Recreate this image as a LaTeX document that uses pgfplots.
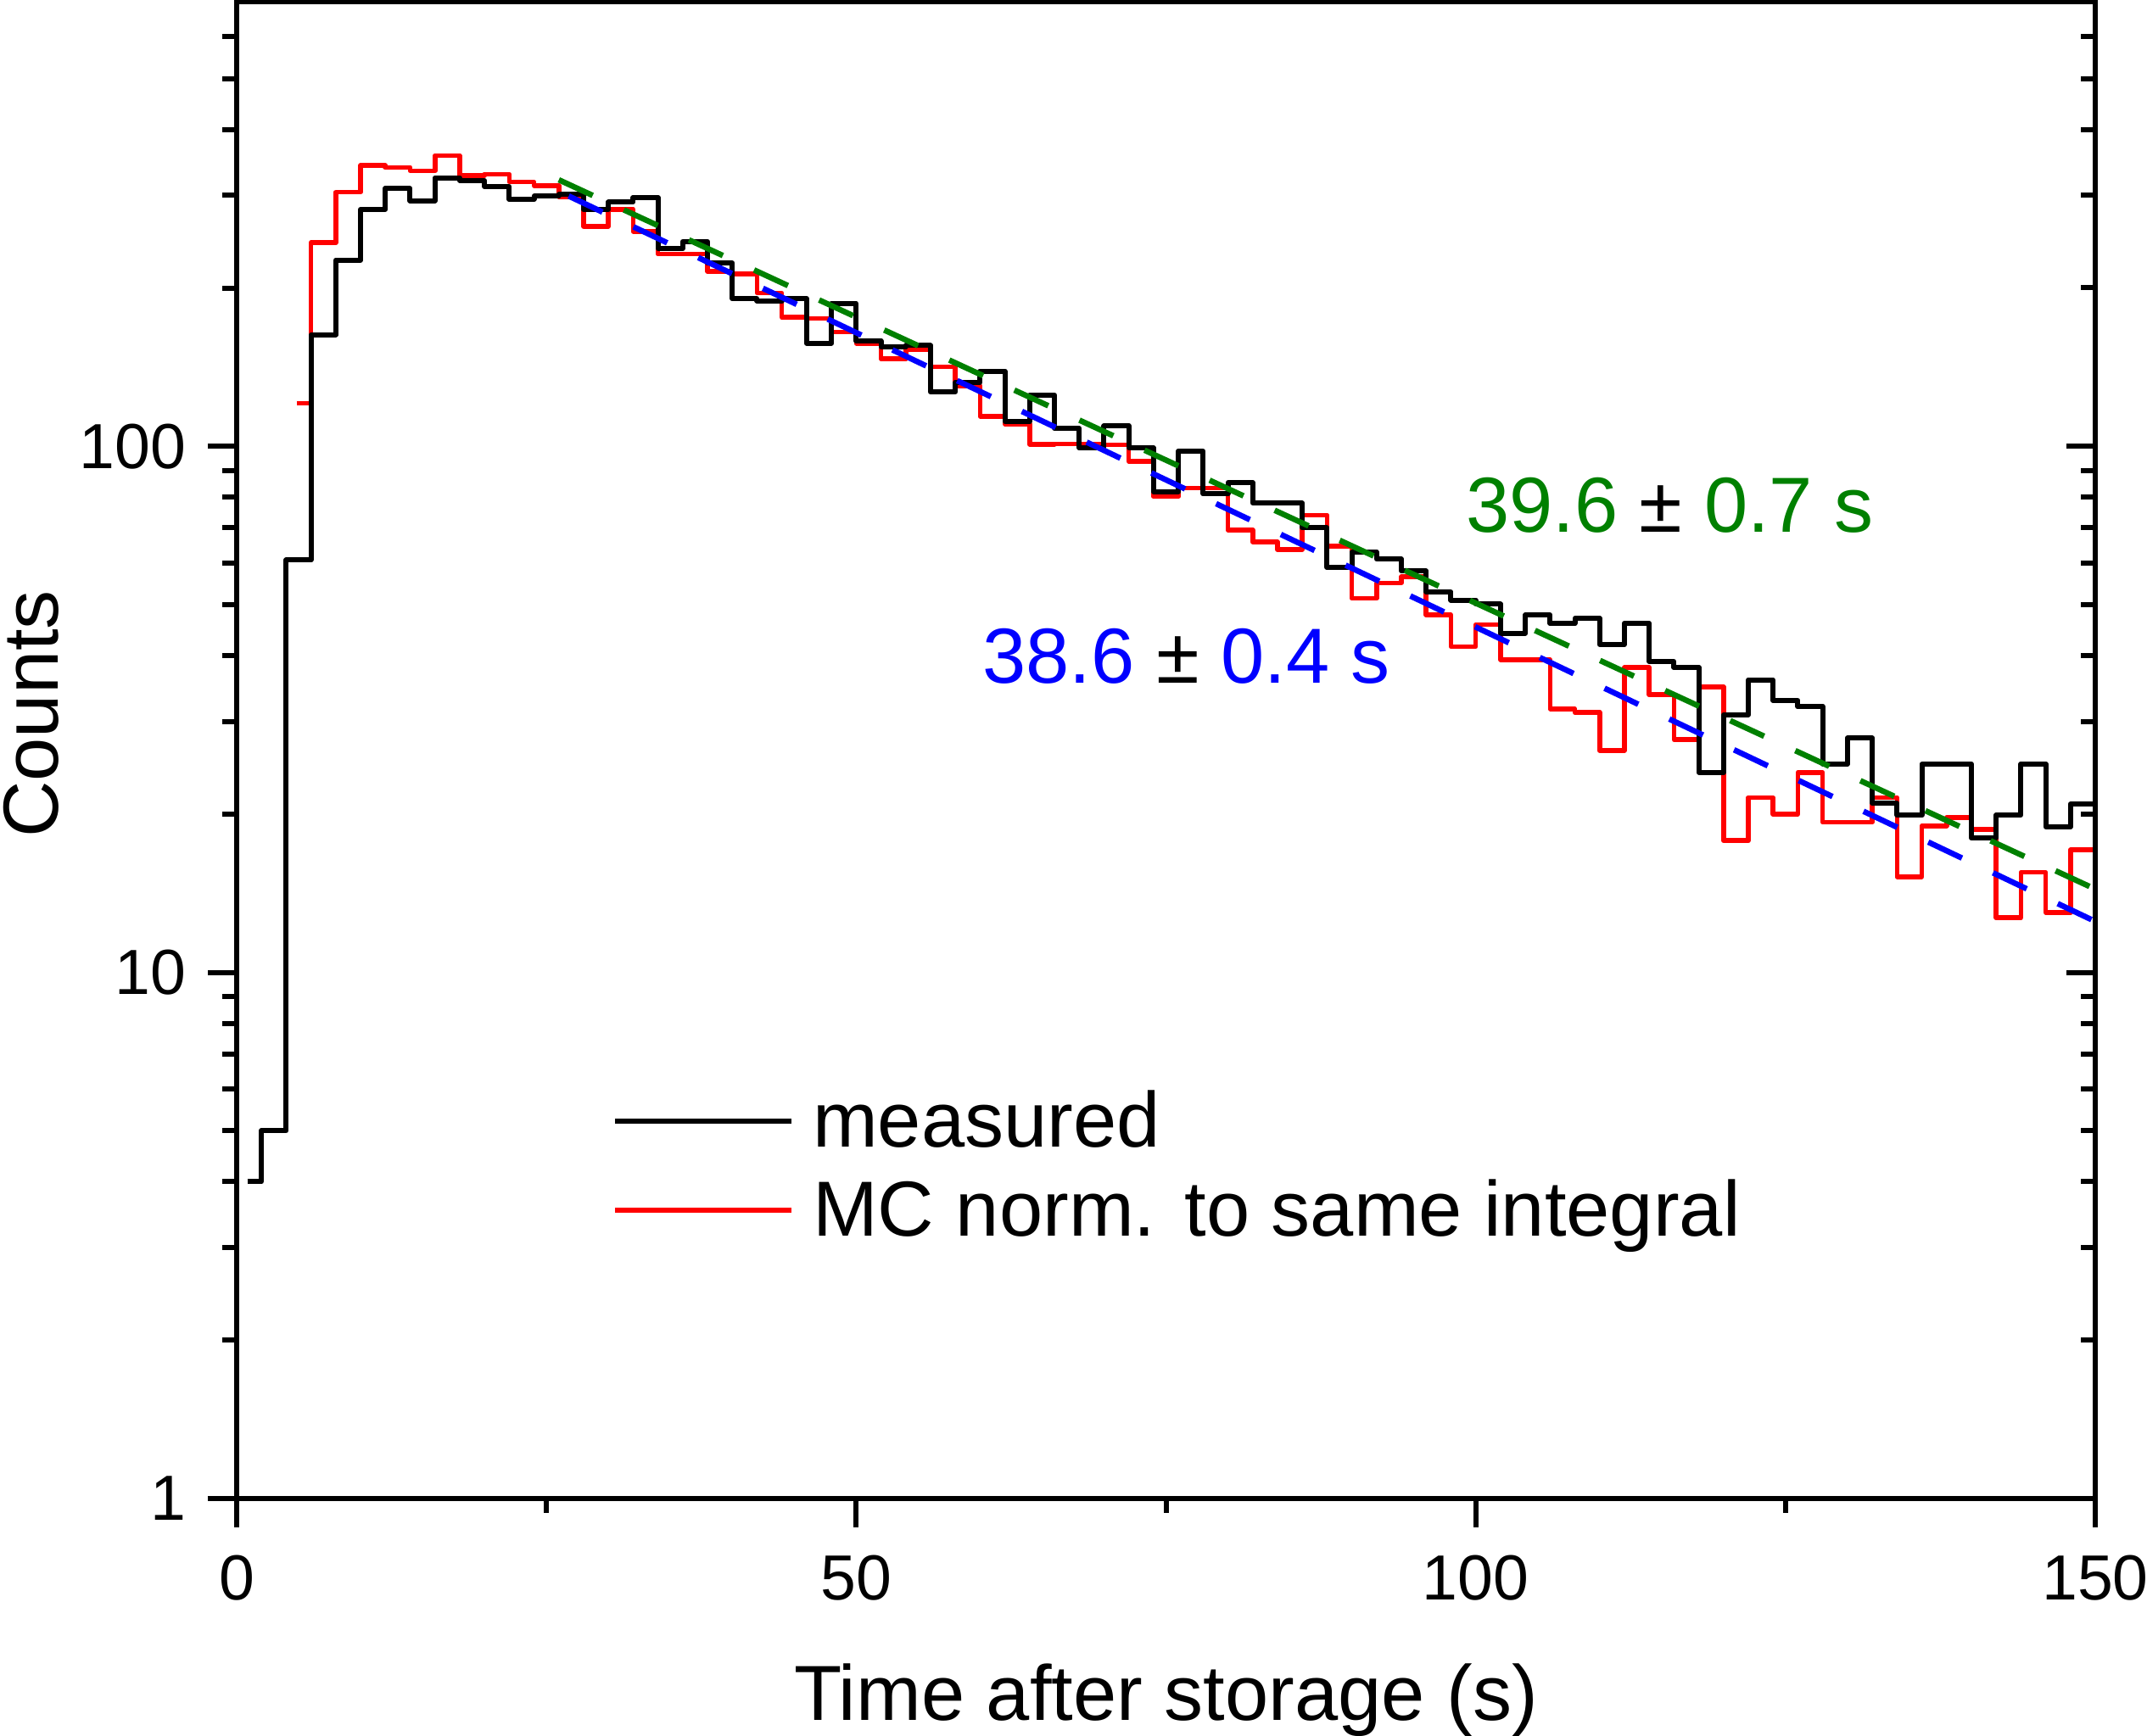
\documentclass[border=0pt]{standalone}
\usepackage{fontspec}
\setmainfont{Liberation Sans}
\usepackage{pgfplots}
\pgfplotsset{compat=1.18}
\definecolor{fitgreen}{RGB}{0,128,0}
\definecolor{fitblue}{RGB}{0,0,255}
\definecolor{mcred}{RGB}{255,0,0}
\newcommand{\tickfont}{\fontsize{21.4}{25}\selectfont}
\newcommand{\labfont}{\fontsize{26.2}{31}\selectfont}
\begin{document}
\begin{tikzpicture}
\begin{axis}[
  at={(0,0)}, anchor=south west,
  scale only axis, width=219.1mm, height=176.5mm,
  xmin=0, xmax=150, ymin=1, ymax=700, ymode=log,
  axis line style={line width=0.62mm},
  tick style={line width=0.6mm, black},
  major tick length=3.4mm, minor tick length=1.7mm,
  tick align=outside,
  xtick pos=lower, ytick pos=left,
  xtick={0,50,100,150}, xticklabels={0,50,100,150},
  minor xtick={25,75,125},
  ytick={1,10,100}, yticklabels={1,10,100},
  minor ytick={2,3,4,5,6,7,8,9,20,30,40,50,60,70,80,90,200,300,400,500,600},
  xticklabel style={font=\tickfont, anchor=base, inner sep=0pt, yshift=-8.6mm},
  yticklabel style={font=\tickfont, anchor=east, inner sep=0pt, xshift=-2.5mm},
  xlabel={Time after storage (s)},
  ylabel={Counts},
  xlabel style={font=\labfont, at={(axis description cs:0.5,-0.1479)}, anchor=base, inner sep=0pt},
  ylabel style={font=\labfont, at={(axis description cs:-0.09585,0.5241)}, anchor=base, inner sep=0pt},
  legend style={draw=none, fill=none, inner sep=0pt, outer sep=0pt,
    at={(0.2022,0.2725)}, anchor=north west, font=\labfont, row sep=3.3mm,
    nodes={inner sep=0pt, text depth=0.15em}},
  legend cell align=left,
  legend image code/.code={\draw[#1, line width=0.65mm] (0mm,0mm) -- (20.8mm,0mm); \path (23.0mm,0mm);},
  reverse legend,
]
\addplot[mcred, line width=0.56mm, line join=round, const plot mark left, mark=none] coordinates {
(4.86,120.8) (6,243.7) (8,304) (10,342) (12,339) (14,334) (16,357) (18,327) (20,329) (22,318)
(24,313) (26,298) (28,262) (30,282) (32,256) (34,232) (36,232) (38,215) (40,212.5) (42,195.6)
(44,175.8) (46,175) (48,165) (50,157) (52,146.6) (54,152.5) (56,141.6) (58,130.3) (60,114) (62,110.3)
(64,100.9) (66,101) (68,101) (70,100.6) (72,93.6) (74,80.2) (76,83.3) (78,83.3) (80,69.3) (82,65.8)
(84,63.6) (86,74) (88,64.6) (90,51.4) (92,55) (94,56.5) (96,47.8) (98,41.6) (100,45.8) (102,39.3)
(104,39.3) (106,31.7) (108,31.2) (110,26.4) (112,38) (114,33.7) (116,27.7) (118,34.9) (120,17.8) (122,21.5)
(124,20) (126,24) (128,19.3) (130,19.3) (132,21.5) (134,15.2) (136,19) (138,19.7) (140,18.7) (142,12.7)
(144,15.5) (146,13) (148,17.1) (150,10.7) (152,10.7)
};
\addlegendentry{MC norm. to same integral}
\addplot[black, line width=0.6mm, line join=round, const plot mark left, mark=none] coordinates {
(0.87,4) (2,5) (4,60.8) (6,163) (8,226) (10,282) (12,309) (14,293) (16,324) (18,320)
(20,312) (22,295) (24,299) (26,301) (28,281.6) (30,291) (32,297) (34,237.6) (36,245) (38,223)
(40,190.8) (42,189) (44,190.8) (46,157) (48,187) (50,158.5) (52,154.5) (54,155.4) (56,126.8) (58,132.3)
(60,139) (62,111.4) (64,125.2) (66,108.2) (68,99.3) (70,109.3) (72,99.3) (74,81.9) (76,98) (78,81.2)
(80,85.3) (82,78) (84,78) (86,70) (88,58.9) (90,63) (92,61) (94,57.9) (96,52.9) (98,51)
(100,50.1) (102,44.1) (104,47.8) (106,46.1) (108,47.1) (110,42) (112,46.1) (114,39) (116,38) (118,24)
(120,30.9) (122,36) (124,32.9) (126,32) (128,24.9) (130,27.9) (132,21) (134,19.9) (136,24.9) (138,24.9)
(140,18) (142,19.9) (144,24.9) (146,18.9) (148,20.9) (150,20.9)
};
\addlegendentry{measured}
\addplot[fitgreen, line width=0.66mm, dash pattern=on 4.4mm off 4.05mm, forget plot] coordinates {(26,321) (150,14.4)};
\addplot[fitblue, line width=0.66mm, dash pattern=on 4.4mm off 4.05mm, forget plot] coordinates {(26.8,299) (150,12.5)};
\node[anchor=base west, inner sep=0pt, font=\labfont] at (axis cs:99.16,68.6) {\textcolor{fitgreen}{39.6} ± \textcolor{fitgreen}{0.7 s}};
\node[anchor=base west, inner sep=0pt, font=\labfont] at (axis cs:60.15,35.5) {\textcolor{fitblue}{38.6} ± \textcolor{fitblue}{0.4 s}};
\end{axis}
\begin{axis}[
  at={(0,0)}, anchor=south west,
  scale only axis, width=219.1mm, height=176.5mm,
  xmin=0, xmax=150, ymin=1, ymax=700, ymode=log,
  axis line style={line width=0.62mm},
  tick style={line width=0.6mm, black},
  major tick length=3.4mm, minor tick length=1.7mm,
  tick align=inside,
  ytick pos=right,
  xtick=\empty,
  ytick={1,10,100}, yticklabel=\empty,
  minor ytick={2,3,4,5,6,7,8,9,20,30,40,50,60,70,80,90,200,300,400,500,600},
]
\end{axis}
\pgfresetboundingbox
\path[use as bounding box] (-27.9mm,-28.0mm) rectangle (225.2mm,176.7mm);
\end{tikzpicture}
\end{document}
